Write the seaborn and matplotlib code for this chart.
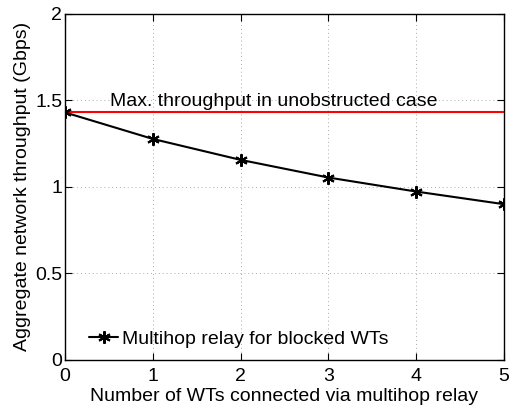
import numpy as np
import pandas as pd
import matplotlib
matplotlib.use("Agg")
import matplotlib.pyplot as plt
import seaborn as sns

# values
num_wts = [0, 1, 2, 3, 4, 5]
throughput = [1.43, 1.277, 1.156, 1.054, 0.973, 0.90]
max_unobstructed = 1.43

data = pd.DataFrame({"wts": num_wts, "thr": throughput})

sns.set_style("ticks", {"axes.edgecolor": "black", "text.color": "black",
                        "axes.labelcolor": "black", "xtick.color": "black",
                        "ytick.color": "black"})
plt.rcParams["font.family"] = ["Liberation Sans", "DejaVu Sans"]
plt.rcParams["xtick.direction"] = "in"
plt.rcParams["ytick.direction"] = "in"

fig = plt.figure(figsize=(5.13, 4.08), dpi=100)
ax = fig.add_axes([0.127, 0.118, 0.855, 0.848])

ax.axhline(max_unobstructed, color="red", lw=1.5, zorder=3)
sns.lineplot(data=data, x="wts", y="thr", ax=ax, color="black", lw=1.5,
             marker=(6, 2, 0), markersize=9, markeredgewidth=1.5,
             markeredgecolor="black",
             label="Multihop relay for blocked WTs", zorder=4)
ax.text(0.51, 1.465, "Max. throughput in unobstructed case", fontsize=14,
        va="baseline", ha="left")

ax.set_xlim(0, 5)
ax.set_ylim(0, 2)
ax.set_xticks(range(6))
ax.set_yticks([0, 0.5, 1, 1.5, 2])
ax.set_yticklabels(["0", "0.5", "1", "1.5", "2"])
ax.grid(True, linestyle=(0, (1, 3)), color="#aaaaaa", lw=0.7)
ax.tick_params(top=True, right=True, labelsize=14, length=5, width=0.8, pad=2)
ax.tick_params(axis="x", pad=6)
for s in ax.spines.values():
    s.set_linewidth(1.0)
    s.set_visible(True)

ax.set_xlabel("Number of WTs connected via multihop relay", fontsize=14, labelpad=2)
ax.set_ylabel("Aggregate network throughput (Gbps)", fontsize=14, labelpad=3)
ax.legend(loc="lower left", frameon=False, fontsize=14, handlelength=1.5,
          handletextpad=0.2, borderpad=0, borderaxespad=0,
          bbox_to_anchor=(0.055, 0.035))

fig.savefig("out.png", dpi=100)
